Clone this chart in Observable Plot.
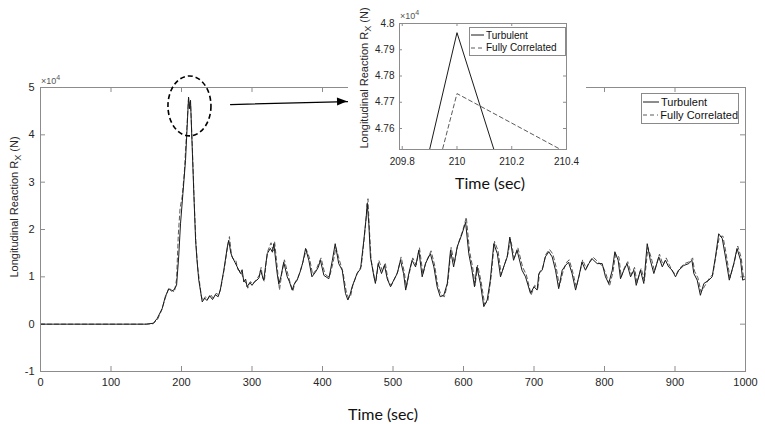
<!DOCTYPE html>
<html><head><meta charset="utf-8">
<script src="https://cdn.jsdelivr.net/npm/d3@7"></script>
<script src="https://cdn.jsdelivr.net/npm/@observablehq/plot@0.6"></script>
<style>
body{margin:0;background:#fff;}
#wrap{position:relative;width:765px;height:424px;overflow:hidden;font-family:"Liberation Sans",Arial,sans-serif;color:#262626;}
.abs{position:absolute;white-space:nowrap;}
.ylab{font-size:11px;transform:translate(-50%,-50%) rotate(-90deg);}
.ylab sub{font-size:9px;vertical-align:-3px;}
.mult{font-size:9px;color:#555;}
.mult sup{font-size:7px;vertical-align:4px;}
.xlab{font-family:Lato,"Open Sans",sans-serif;font-size:16px;color:#111;transform:translate(-50%,-50%);}
.legend{background:#fff;border:1px solid #8a8a8a;box-sizing:border-box;color:#111;}
.legend .row{display:flex;align-items:center;}
#inset{position:absolute;background:#fff;}
</style></head>
<body><div id="wrap"></div>
<script>
// ---------------- data (values in units of 10^4 N) ----------------
const turbulentTime = [0,150,160,165.5,172.6,177,182,186,189,193,196,198.6,202,205.7,208,210,211.5,212.8,215,217.5,220,222,224.5,227,229.4,233,236,240,244,248,252,255,260,265,267,270,272,276,279,283.7,286,288.4,291,293,297,300,304,307,310,312,314,316.7,319,321.6,326,329,331,335.7,338,341,345,350,353,357,360,364,367,369,372,376,380.6,385,390,394,397,402,405,409,414,418,423,428,432.6,436,439,442,446,449,454,458.6,462,463.4,465.7,468,473,475,479,483.7,488,491.8,496.5,501,506,510.6,515,518,522.4,527,532,536.6,541.4,546,553,558,562.6,567,572,577,581.6,586,591,598,603,607.5,612,615.6,619,624,628.8,633.6,638,643,648,652.5,657,662,665.7,671,676,683,688,695,700,704.5,706.8,711.6,716,721,725.8,730.5,735,740,744.7,749,754,759,763.5,768,773,777.7,782.5,789.6,796.7,801.4,806,811,814.7,819.4,822.7,827.4,832,837,841.6,845,851,855.7,860.6,865,870,877,882,886.5,891,896,900.7,905.4,912.5,919.6,924,926.7,931.5,936,941,948,952.7,957.4,962,967,971.6,977,983.4,988,993,996,1000];
const turbulentValue = [0,0,0.02,0.12,0.33,0.58,0.75,0.70,0.72,0.82,1.42,2.12,2.76,3.46,4.16,4.797,4.55,4.73,3.81,2.76,1.77,1.35,0.93,0.70,0.47,0.55,0.50,0.60,0.52,0.62,0.58,0.72,1.14,1.63,1.77,1.50,1.42,1.30,1.21,1.07,1.15,0.89,0.95,0.79,0.88,0.82,0.90,0.93,0.98,1.14,1.05,0.93,1.20,1.49,1.60,1.52,1.70,1.07,0.85,1.00,1.31,1.00,0.90,0.72,0.85,0.93,1.05,1.14,1.30,1.60,1.35,1.00,1.10,1.20,1.35,1.03,1.00,0.96,1.35,1.70,1.28,1.14,0.65,0.51,0.62,0.79,0.95,1.07,1.17,1.77,2.26,2.55,2.12,1.42,1.00,0.86,1.28,1.07,1.24,0.96,0.79,0.93,1.07,1.35,1.07,0.72,1.07,1.35,1.21,1.56,1.00,1.28,1.49,1.21,0.79,0.58,0.61,0.86,1.56,1.21,1.63,1.91,2.15,1.49,1.14,0.79,1.21,0.86,0.37,0.51,0.93,1.70,1.49,1.00,1.21,1.42,1.84,1.35,1.56,1.14,1.00,0.65,0.79,0.72,1.07,1.14,1.42,1.53,1.42,1.14,0.75,1.14,1.24,1.31,1.07,0.72,1.00,1.31,1.14,1.28,1.38,1.28,1.28,1.00,0.86,1.14,1.53,1.35,0.96,1.14,1.28,1.00,1.14,0.82,1.14,0.86,1.70,1.35,1.07,1.42,1.21,1.35,1.21,1.14,1.00,1.14,1.24,1.28,1.35,1.07,0.93,0.61,0.86,0.93,1.00,1.42,1.91,1.81,1.42,0.93,1.28,1.60,1.35,0.93,0.96];

const correlatedTime = [0,150,160,166,172,177,182,186,190,193,195.5,198,201,204,207,210,211.5,213,215.5,218,220.5,223,225.5,228,230,234,237,241,245,249,253,256,261,266,268,271,273,277,280,284,287,289,292,294,298,301,305,308,311,313,315,317.5,320,322.5,327,330,332,336.5,339,342,346,351,354,358,361,365,368,370,373,377,381.5,386,391,395,398,403,406,410,415,419,424,429,433.5,437,440,443,447,450,455,459.5,463,464.5,466.5,469,474,476,480,485,489,493,497.5,502,507,511.5,516,519,523.5,528,533,537.5,542.5,547,554,559,563.5,568,573,578,582.5,587,592,599,604,608.5,613,616.5,620,625,630,634.5,639,644,649,653.5,658,663,666.7,672,677,684,689,696,701,705.5,708,712.6,717,722,726.8,731.5,736,741,745.7,750,755,760,764.5,769,774,778.7,783.5,790.6,797.7,802.4,807,812,815.7,820.4,823.7,828.4,833,838,842.6,846,852,856.7,861.6,866,871,878,883,887.5,892,897,901.7,906.4,913.5,920.6,925,927.7,932.5,937,942,949,953.7,958.4,963,968,972.6,978,984.4,989,994,997,1000];
const correlatedValue = [0,0,0.01,0.10,0.30,0.55,0.76,0.72,0.68,0.95,1.90,2.45,2.70,3.20,4.00,4.773,4.60,4.62,3.70,2.60,1.70,1.20,0.90,0.60,0.50,0.58,0.52,0.63,0.55,0.65,0.62,0.78,1.20,1.70,1.85,1.45,1.38,1.35,1.15,1.12,1.00,0.92,0.85,0.76,0.90,0.85,0.92,0.98,1.05,1.20,0.98,0.90,1.30,1.55,1.72,1.55,1.75,1.10,0.72,1.05,1.36,1.05,0.88,0.70,0.88,0.98,1.10,1.20,1.35,1.58,1.40,1.05,1.15,1.30,1.40,1.08,1.02,1.00,1.30,1.62,1.35,1.10,0.70,0.55,0.60,0.82,0.98,1.10,1.22,1.85,2.45,2.65,2.00,1.35,0.95,0.92,1.35,1.12,1.30,0.92,0.82,0.95,1.12,1.42,1.10,0.78,1.10,1.40,1.25,1.62,1.05,1.32,1.55,1.25,0.82,0.62,0.58,0.90,1.62,1.28,1.68,1.98,2.26,1.55,1.20,0.82,1.25,0.90,0.42,0.48,0.98,1.75,1.55,1.05,1.25,1.48,1.80,1.40,1.62,1.20,1.05,0.62,0.82,0.76,1.10,1.20,1.48,1.58,1.48,1.20,0.80,1.10,1.30,1.36,1.10,0.78,1.05,1.36,1.18,1.32,1.42,1.32,1.22,1.05,0.80,1.10,1.48,1.42,1.00,1.20,1.32,1.05,1.20,0.88,1.18,0.92,1.62,1.42,1.12,1.48,1.25,1.40,1.25,1.10,1.05,1.18,1.28,1.32,1.40,1.12,0.98,0.68,0.80,0.98,1.05,1.48,1.85,1.86,1.48,0.98,1.32,1.65,1.40,1.00,1.00];

// zoomed inset around the peak
const insetTurbulentTime = [209.8, 210, 210.2];
const insetTurbulentValue = [4.7075, 4.7965, 4.7305];
const insetCorrelatedTime = [209.8, 210, 210.4];
const insetCorrelatedValue = [4.693, 4.7733, 4.7508];

const xTicks = [0,100,200,300,400,500,600,700,800,900,1000];
const yTicks = [-1,0,1,2,3,4,5];
const insetXTicks = [209.8, 210, 210.2, 210.4];
const insetYTicks = [4.76, 4.77, 4.78, 4.79, 4.8];
const seriesNames = ["Turbulent", "Fully Correlated"];
const xLabel = "Time (sec)";
const multiplier = "×10";

// annotations (data coordinates)
const highlight = {t: 212, v: 4.6, rt: 30.5, rv: 0.633};
const pointer = {t1: 269.5, v1: 4.64, t2: 435.5, v2: 4.70};

// ---------------- build ----------------
const toRows = (ts, vs) => ts.map((t, i) => ({t, v: vs[i]}));
const turbulent = toRows(turbulentTime, turbulentValue);
const correlated = toRows(correlatedTime, correlatedValue);
const insetTurb = toRows(insetTurbulentTime, insetTurbulentValue);
const insetCorr = toRows(insetCorrelatedTime, insetCorrelatedValue);

const frameColor = "#8c8c8c";
const solidColor = "#1a1a1a";
const dashColor = "#5a5a5a";
const wrap = document.getElementById("wrap");

const W = 765, H = 424, mL = 40, mR = 20, mT = 87, mB = 53;
const fW = W - mL - mR, fH = H - mT - mB;

const main = Plot.plot({
  width: W, height: H, marginLeft: mL, marginRight: mR, marginTop: mT, marginBottom: mB,
  x: {domain: [0, 1000]}, y: {domain: [-1, 5]},
  style: {fontFamily: "Liberation Sans, Arial, sans-serif", fontSize: "11px", color: "#262626", background: "#fff"},
  marks: [
    Plot.tickX(xTicks, {x: d => d, stroke: frameColor, insetTop: fH - 5}),
    Plot.tickX(xTicks, {x: d => d, stroke: frameColor, insetBottom: fH - 5}),
    Plot.tickY(yTicks, {y: d => d, stroke: frameColor, insetRight: fW - 5}),
    Plot.tickY(yTicks, {y: d => d, stroke: frameColor, insetLeft: fW - 5}),
    Plot.axisX(xTicks, {tickSize: 0, tickPadding: 7, tickFormat: d => String(d), label: null}),
    Plot.axisY(yTicks, {tickSize: 0, tickPadding: 6, tickFormat: d => String(d), label: null}),
    Plot.line(correlated, {x: "t", y: "v", stroke: dashColor, strokeWidth: 1, strokeDasharray: "4,3"}),
    Plot.line(turbulent, {x: "t", y: "v", stroke: solidColor, strokeWidth: 1}),
    Plot.frame({stroke: frameColor}),
    Plot.arrow([pointer], {x1: "t1", y1: "v1", x2: "t2", y2: "v2", stroke: "#000", strokeWidth: 1.2, headLength: 0})
  ]
});
main.style.position = "absolute"; main.style.left = "0px"; main.style.top = "0px";
wrap.appendChild(main);

// ellipse + arrow head using the plot's scales
const sx = main.scale("x"), sy = main.scale("y");
const svg = d3.select(main);
svg.append("ellipse")
  .attr("cx", sx.apply(highlight.t)).attr("cy", sy.apply(highlight.v))
  .attr("rx", sx.apply(highlight.t + highlight.rt) - sx.apply(highlight.t))
  .attr("ry", sy.apply(highlight.v) - sy.apply(highlight.v + highlight.rv))
  .attr("fill", "none").attr("stroke", "#000").attr("stroke-width", 1.6).attr("stroke-dasharray", "5,3");
{
  const x2 = sx.apply(pointer.t2), y2 = sy.apply(pointer.v2);
  const x1 = sx.apply(pointer.t1), y1 = sy.apply(pointer.v1);
  const a = Math.atan2(y2 - y1, x2 - x1) * 180 / Math.PI;
  svg.append("path").attr("d", "M0,0L-10,-4L-10,4Z").attr("fill", "#000")
    .attr("transform", `translate(${x2},${y2}) rotate(${a})`);
}

function addHTML(html, cls, left, top, parent = wrap) {
  const d = document.createElement("div");
  d.className = "abs " + cls; d.innerHTML = html;
  d.style.left = left + "px"; d.style.top = top + "px";
  parent.appendChild(d); return d;
}
const yLabelHTML = "Longitudinal Reaction R<sub>X</sub> (N)";
addHTML(yLabelHTML, "ylab", 15, 207);
addHTML(multiplier + "<sup>4</sup>", "mult", 41, 74);
addHTML(xLabel, "xlab", 383, 413);

function legend(left, top, w, h, fs, sw, gap, parent = wrap) {
  const d = addHTML("", "legend", left, top, parent);
  d.style.width = w + "px"; d.style.height = h + "px"; d.style.fontSize = fs + "px";
  d.style.padding = "1px 0 0 1px";
  seriesNames.forEach((name, i) => {
    const r = document.createElement("div"); r.className = "row";
    r.style.height = ((h - 4) / 2) + "px";
    r.innerHTML = `<svg width="${sw}" height="4" style="margin-right:${gap}px"><line x1="0" y1="2" x2="${sw}" y2="2" stroke="${i ? dashColor : solidColor}" stroke-width="1" ${i ? 'stroke-dasharray="4,3"' : ''}/></svg><span>${name}</span>`;
    d.appendChild(r);
  });
  return d;
}
legend(641, 93, 98, 31, 11, 16, 2);

// ---------------- inset ----------------
const IL = 348, IT = 0, IW = 238, IH = 195;
const inset = document.createElement("div");
inset.id = "inset";
inset.style.left = IL + "px"; inset.style.top = IT + "px";
inset.style.width = IW + "px"; inset.style.height = IH + "px";
wrap.appendChild(inset);
const iL = 399 - IL, iR = IL + IW - 566, iT = 23, iB = IH - 149;
const ifW = IW - iL - iR, ifH = IH - iT - iB;
const ip = Plot.plot({
  width: IW, height: IH, marginLeft: iL, marginRight: iR, marginTop: iT, marginBottom: iB,
  x: {domain: [209.79, 210.4]}, y: {domain: [4.752, 4.8]},
  style: {fontFamily: "Liberation Sans, Arial, sans-serif", fontSize: "10px", color: "#262626", background: "#fff"},
  marks: [
    Plot.tickX(insetXTicks, {x: d => d, stroke: frameColor, insetTop: ifH - 3}),
    Plot.tickX(insetXTicks, {x: d => d, stroke: frameColor, insetBottom: ifH - 3}),
    Plot.tickY(insetYTicks, {y: d => d, stroke: frameColor, insetRight: ifW - 3}),
    Plot.tickY(insetYTicks, {y: d => d, stroke: frameColor, insetLeft: ifW - 3}),
    Plot.axisX(insetXTicks, {tickSize: 0, tickPadding: 8, tickFormat: d => String(d), label: null}),
    Plot.axisY(insetYTicks, {tickSize: 0, tickPadding: 5, tickFormat: d => String(d), label: null}),
    Plot.line(insetCorr, {x: "t", y: "v", stroke: dashColor, strokeWidth: 1, strokeDasharray: "4,3", clip: true}),
    Plot.line(insetTurb, {x: "t", y: "v", stroke: solidColor, strokeWidth: 1, clip: true}),
    Plot.frame({stroke: frameColor})
  ]
});
inset.appendChild(ip);
addHTML(yLabelHTML, "ylab", 365 - IL, 78, inset);
addHTML(multiplier + "<sup>4</sup>", "mult", 400 - IL, 9, inset);
addHTML(xLabel, "xlab", 490 - IL, 182, inset);
legend(469 - IL, 27, 97, 29, 10, 13, 2, inset);
</script>
</body></html>
